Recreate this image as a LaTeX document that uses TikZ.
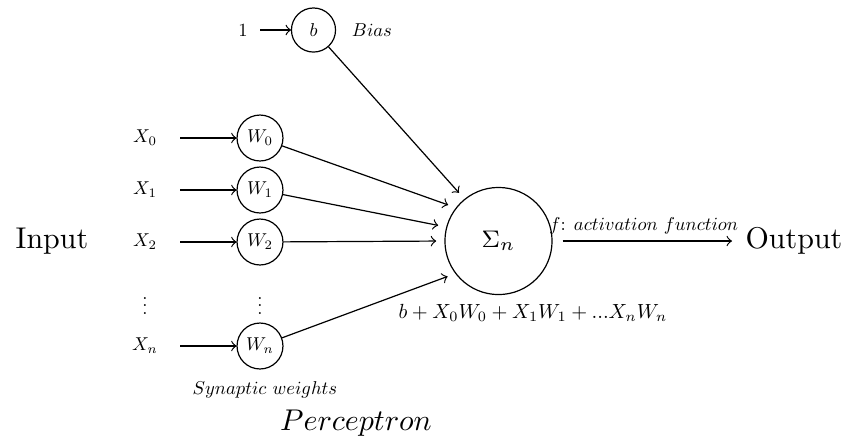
\documentclass[tikz,border=0pt]{standalone}
\usepackage{amsmath,amssymb}
\usepackage{tikz}

\begin{document}
\begin{tikzpicture}[x=0.3333pt,y=-0.3333pt,
    note/.style={font=\normalsize,scale=0.62},
    neuron/.style={note,draw,circle,inner sep=0pt,minimum size=24.7pt},
    inlabel/.style={note,inner sep=0pt,minimum width=37.6pt},
    weight/.style={->,shorten >=2.7pt}]
  \useasboundingbox (0,0) rectangle (846,441);
  % bias
  \node[neuron,minimum size=23.7pt] (b) at (313.5,30) {$b$};
  \node[inlabel,minimum width=18.2pt] (one) at (243,30) {$1$};
  \node[note] (bias) at (372,30) {$Bias$};
  \draw[->] (one) -- (b);
  % inputs and weights
  \foreach \i/\y in {0/138,1/190,2/242} {
    \node[inlabel] (x\i) at (145,\y) {$X_{\i}$};
    \node[neuron] (w\i) at (260,\y) {$W_{\i}$};
    \draw[->] (x\i) -- (w\i);
  }
  \node[note] (xdots) at (145,300) {$\vdots$};
  \node[note] (wdots) at (260,300) {$\vdots$};
  \node[inlabel] (xn) at (145,346) {$X_n$};
  \node[neuron] (wn) at (260,346) {$W_n$};
  \draw[->] (xn) -- (wn);
  % summation
  \node[draw,circle,inner sep=0pt,minimum size=35.7pt,font=\footnotesize] (sum) at (498.5,241) {$\Sigma_n$};
  \draw[weight] (b) -- (sum.129);
  \draw[weight] (w0) -- (sum.142);
  \draw[weight] (w1) -- (sum.165);
  \draw[weight] (w2) -- (sum.180);
  \draw[weight] (wn) -- (sum.217);
  \node[note,scale=1.1] (formula) at (533,313) {$b + X_0W_0 + X_1W_1 + ...X_nW_n$};
  % output
  \node (input) at (52,241) {Input};
  \node (output) at (794,241) {Output};
  \draw[->,shorten <=3.3pt,shorten >=1pt] (sum) -- (output)
    node[midway,above,note] {$f$: $activation\ function$};
  \node[note] (synaptic) at (265,390) {$Synaptic\ weights$};
  \node (title) at (356,423) {$Perceptron$};
\end{tikzpicture}
\end{document}
